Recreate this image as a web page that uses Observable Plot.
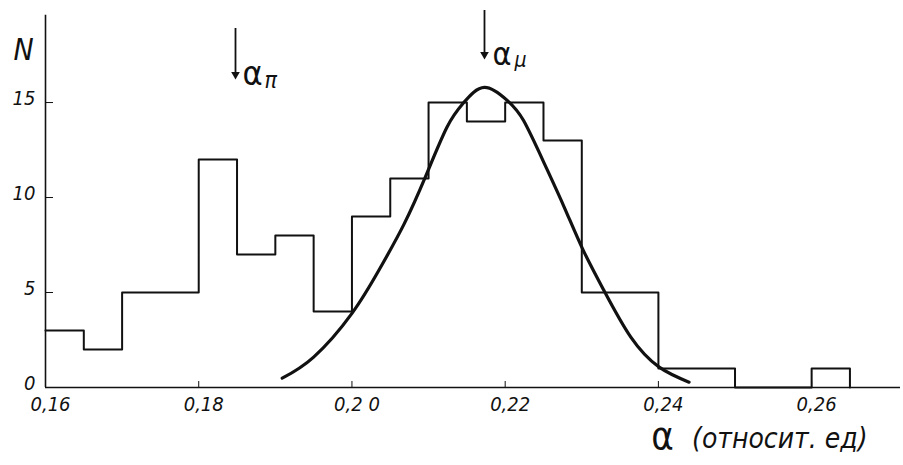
<!DOCTYPE html>
<html>
<head>
<meta charset="utf-8">
<script src="https://cdn.jsdelivr.net/npm/d3@7"></script>
<script src="https://cdn.jsdelivr.net/npm/@observablehq/plot@0.6"></script>
<style>
  html, body { margin: 0; padding: 0; background: #fff; }
  #chart svg { display: block; }
</style>
</head>
<body>
<div id="chart"></div>
<script>
// Histogram bins (left edges) and counts
const binStart = [0.160, 0.165, 0.170, 0.175, 0.180, 0.185, 0.190, 0.195, 0.200, 0.205,
                  0.210, 0.215, 0.220, 0.225, 0.230, 0.235, 0.240, 0.245, 0.250, 0.255, 0.260];
const counts   = [3, 2, 5, 5, 12, 7, 8, 4, 9, 11, 15, 14, 15, 13, 5, 5, 1, 1, 0, 0, 1];
const binWidth = 0.005;

// Fitted curve
const curveX = [0.1909, 0.1950, 0.2000, 0.2037, 0.2068, 0.2096, 0.2124, 0.2146, 0.2173,
                0.2203, 0.2224, 0.2251, 0.2277, 0.2301, 0.2329, 0.2364, 0.2401, 0.2440];
const curveY = [0.49, 1.6, 3.9, 6.3, 8.6, 11.1, 13.7, 15.0, 15.8,
                15.1, 14.05, 11.8, 9.5, 7.3, 5.1, 2.65, 1.07, 0.28];

// Axes
const xTicks = [0.16, 0.18, 0.20, 0.22, 0.24, 0.26];
const xTickLabels = ["0,16", "0,18", "0,2 0", "0,22", "0,24", "0,26"];
const yTicks = [0, 5, 10, 15];
const yTickLabels = ["0", "5", "10", "15"];
const xDomain = [0.16, 0.2716];
const yDomain = [0, 19.95];
const yAxisTop = 19.6;

// Markers
const markerValue = [0.1848, 0.2173];
const markerSub = ["π", "μ"];

// Build tables
const steps = binStart.map((x, i) => ({x, n: counts[i]}));
steps.push({x: binStart[binStart.length - 1] + binWidth, n: 0});
const curve = curveX.map((x, i) => ({x, y: curveY[i]}));
const markers = markerValue.map((v, i) => ({v, sub: markerSub[i], i}));
const xLab = xTicks.map((v, i) => ({v, t: xTickLabels[i]}));
const yLab = yTicks.map((v, i) => ({v, t: yTickLabels[i]}));

const font = "'DejaVu Sans Condensed', 'DejaVu Sans', sans-serif";
const W = 903, H = 465, mL = 45, mR = 3, mT = 8, mB = 78;
const fw = W - mL - mR, fh = H - mT - mB;

const plot = Plot.plot({
  width: W,
  height: H,
  marginLeft: mL,
  marginRight: mR,
  marginTop: mT,
  marginBottom: mB,
  style: {fontFamily: font, background: "#fff", color: "#111"},
  x: {type: "linear", domain: xDomain, axis: null},
  y: {type: "linear", domain: yDomain, axis: null},
  marks: [
    // axis lines
    Plot.ruleY([0], {stroke: "#111", strokeWidth: 1.6}),
    Plot.ruleX([xDomain[0]], {y1: 0, y2: yAxisTop, stroke: "#111", strokeWidth: 1.6}),
    // tick labels
    Plot.text(xLab, {x: "v", text: "t", frameAnchor: "bottom", dx: 5, dy: 23,
      fontSize: 20, fontStyle: "italic", fontFamily: font, fill: "#111"}),
    Plot.text(yLab, {y: "v", text: "t", frameAnchor: "left", dx: -10, dy: -4, textAnchor: "end",
      fontSize: 20, fontStyle: "italic", fontFamily: font, fill: "#111"}),
    // inward tick marks
    Plot.ruleX(xTicks, {x: d => d, insetTop: fh - 6, stroke: "#111", strokeWidth: 1}),
    Plot.ruleY(yTicks.filter(d => d > 0), {y: d => d, insetRight: fw - 8, stroke: "#111", strokeWidth: 1}),
    // histogram outline
    Plot.line(steps, {x: "x", y: "n", curve: "step-after", stroke: "#111", strokeWidth: 2}),
    // fitted curve
    Plot.line(curve, {x: "x", y: "y", curve: "natural", stroke: "#111", strokeWidth: 3.2}),
    // marker arrows
    Plot.ruleX(markers.filter(d => d.i === 0), {x: "v", insetTop: 20, insetBottom: 312, stroke: "#111", strokeWidth: 1.8}),
    Plot.ruleX(markers.filter(d => d.i === 1), {x: "v", insetTop: 2, insetBottom: 332, stroke: "#111", strokeWidth: 1.8}),
    Plot.dot(markers.filter(d => d.i === 0), {x: "v", frameAnchor: "top", dy: 66, symbol: "triangle", rotate: 180, r: 3.2, fill: "#111", stroke: "none"}),
    Plot.dot(markers.filter(d => d.i === 1), {x: "v", frameAnchor: "top", dy: 46, symbol: "triangle", rotate: 180, r: 3.2, fill: "#111", stroke: "none"}),
    // marker labels
    Plot.text(markers.filter(d => d.i === 0), {x: "v", text: () => "α", frameAnchor: "top", dx: 7, dy: 52, textAnchor: "start", fontSize: 34, fontFamily: font}),
    Plot.text(markers.filter(d => d.i === 0), {x: "v", text: "sub", frameAnchor: "top", dx: 29, dy: 63, textAnchor: "start", fontSize: 23, fontStyle: "italic", fontFamily: font}),
    Plot.text(markers.filter(d => d.i === 1), {x: "v", text: () => "α", frameAnchor: "top", dx: 8, dy: 34, textAnchor: "start", fontSize: 32, fontFamily: font}),
    Plot.text(markers.filter(d => d.i === 1), {x: "v", text: "sub", frameAnchor: "top", dx: 30, dy: 44, textAnchor: "start", fontSize: 21, fontStyle: "italic", fontFamily: font}),
    // axis titles
    Plot.text(["N"], {frameAnchor: "top-left", dx: -22, dy: 30, textAnchor: "middle", fontSize: 30, fontStyle: "italic", fontFamily: font}),
    Plot.text(["α"], {frameAnchor: "bottom-right", dx: -238, dy: 61, textAnchor: "middle", fontSize: 38, fontFamily: font}),
    Plot.text(["(относит. ед)"], {frameAnchor: "bottom-right", dx: -33, dy: 60, textAnchor: "end", fontSize: 28, fontStyle: "italic", fontFamily: font})
  ]
});
document.getElementById("chart").appendChild(plot);
</script>
</body>
</html>
